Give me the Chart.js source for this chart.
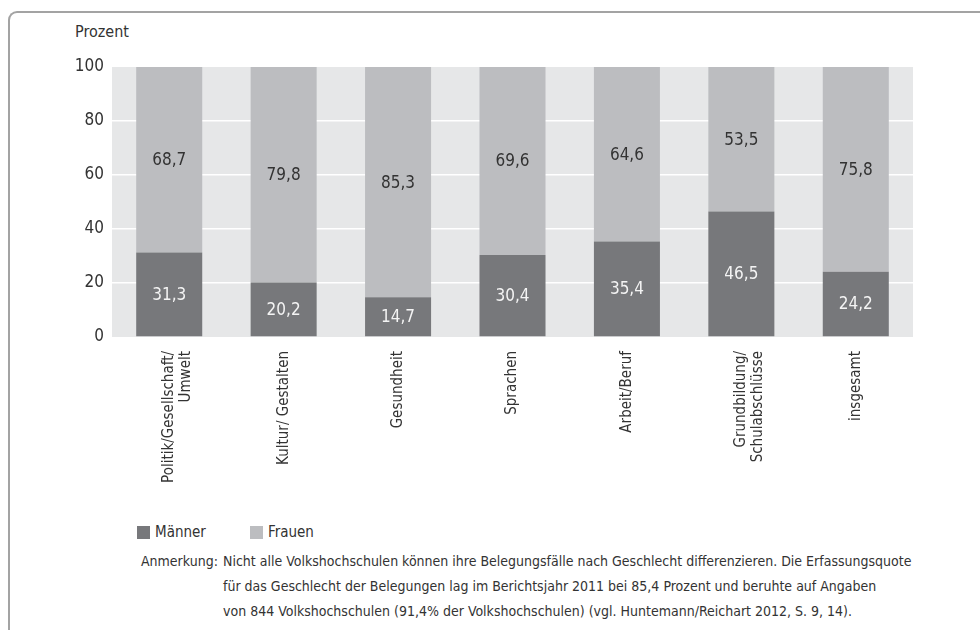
<!DOCTYPE html>
<html lang="de">
<head>
<meta charset="utf-8">
<title>Belegungen nach Geschlecht</title>
<script src="https://cdn.jsdelivr.net/npm/chart.js"></script>
<style>
    html, body {
        margin: 0;
        padding: 0;
        background: #fff;
    }
    body {
        width: 980px;
        height: 630px;
        position: relative;
        overflow: hidden;
        font-family: "DejaVu Sans Condensed", "Liberation Sans Narrow", sans-serif;
        color: #333;
    }
    .frame {
        position: absolute;
        left: 8px;
        top: 11px;
        width: 1000px;
        height: 700px;
        border-left: 2px solid #a3a3a3;
        border-top: 2px solid #a3a3a3;
        border-top-left-radius: 9px;
    }
    .unit {
        position: absolute;
        left: 75px;
        top: 22px;
        font-size: 16px;
    }
    .chart-box {
        position: absolute;
        left: 0;
        top: 0;
        width: 980px;
        height: 500px;
    }
    .legend {
        position: absolute;
        left: 137px;
        top: 523px;
        font-size: 15px;
        display: flex;
    }
    .legend .item {
        display: flex;
        align-items: center;
        width: 113px;
    }
    .legend .swatch {
        width: 13px;
        height: 13px;
        margin-right: 5px;
    }
    .note {
        position: absolute;
        left: 141px;
        top: 549px;
        font-size: 14px;
        line-height: 25px;
        display: flex;
        white-space: nowrap;
    }
    .note .head {
        width: 82px;
        flex: none;
    }
</style>
</head>
<body>
<div class="frame"></div>
<div class="unit">Prozent</div>
<div class="chart-box"><canvas id="chart" width="980" height="500"></canvas></div>
<div class="legend"></div>
<div class="note">
    <div class="head">Anmerkung:</div>
    <div class="body">
        Nicht alle Volkshochschulen können ihre Belegungsfälle nach Geschlecht differenzieren. Die Erfassungsquote<br>
        für das Geschlecht der Belegungen lag im Berichtsjahr 2011 bei 85,4 Prozent und beruhte auf Angaben<br>
        von 844 Volkshochschulen (91,4% der Volkshochschulen) (vgl. Huntemann/Reichart 2012, S. 9, 14).
    </div>
</div>

<script>
const categories = [
    ['Politik/Gesellschaft/', 'Umwelt'],
    'Kultur/ Gestalten',
    'Gesundheit',
    'Sprachen',
    'Arbeit/Beruf',
    ['Grundbildung/', 'Schulabschlüsse'],
    'insgesamt'
];
const maenner = [31.3, 20.2, 14.7, 30.4, 35.4, 46.5, 24.2];
const frauen = [68.7, 79.8, 85.3, 69.6, 64.6, 53.5, 75.8];
const yTicks = [0, 20, 40, 60, 80, 100];

const FONT = '"DejaVu Sans Condensed", "Liberation Sans Narrow", sans-serif';
const DARK = '#77787b';
const LIGHT = '#bcbdc0';

// grey plot background behind the grid
const plotBackground = {
    id: 'plotBackground',
    beforeDraw(chart) {
        const { ctx, chartArea } = chart;
        ctx.save();
        ctx.fillStyle = '#e6e7e8';
        ctx.fillRect(chartArea.left, chartArea.top, chartArea.right - chartArea.left, chartArea.bottom - chartArea.top);
        ctx.restore();
    }
};

// value written in the middle of each segment, comma as decimal mark
const segmentLabels = {
    id: 'segmentLabels',
    afterDatasetsDraw(chart) {
        const ctx = chart.ctx;
        ctx.save();
        ctx.font = '17px ' + FONT;
        ctx.textAlign = 'center';
        ctx.textBaseline = 'middle';
        chart.data.datasets.forEach((ds, di) => {
            const meta = chart.getDatasetMeta(di);
            ctx.fillStyle = di === 0 ? '#f4f4f4' : '#333';
            meta.data.forEach((bar, i) => {
                const text = ds.data[i].toFixed(1).replace('.', ',');
                ctx.fillText(text, bar.x, (bar.y + bar.base) / 2 + 1);
            });
        });
        ctx.restore();
    }
};

const chart = new Chart(document.getElementById('chart'), {
    type: 'bar',
    data: {
        labels: categories,
        datasets: [
            { label: 'Männer', data: maenner, backgroundColor: DARK },
            { label: 'Frauen', data: frauen, backgroundColor: LIGHT }
        ]
    },
    options: {
        responsive: false,
        animation: false,
        events: [],
        barPercentage: 1,
        categoryPercentage: 0.577,
        layout: { padding: { left: 0, right: 67, top: 67, bottom: 0 } },
        plugins: {
            legend: { display: false },
            tooltip: { enabled: false }
        },
        scales: {
            x: {
                stacked: true,
                grid: { display: false },
                border: { display: false },
                ticks: {
                    color: '#333',
                    font: { family: FONT, size: 15, lineHeight: 1.1 },
                    maxRotation: 90,
                    minRotation: 90,
                    padding: 6,
                    autoSkip: false
                },
                afterFit(scale) { scale.height = 163; }
            },
            y: {
                stacked: true,
                min: 0,
                max: 100,
                afterBuildTicks(scale) {
                    scale.ticks = yTicks.map(v => ({ value: v }));
                },
                grid: {
                    color: ctx => (ctx.tick && (ctx.tick.value === 0 || ctx.tick.value === 100)) ? 'rgba(0,0,0,0)' : '#ffffff',
                    lineWidth: 1.5,
                    drawTicks: false
                },
                border: { display: false },
                ticks: {
                    color: '#333',
                    font: { family: FONT, size: 17 },
                    padding: 8
                },
                afterFit(scale) { scale.width = 112; }
            }
        }
    },
    plugins: [plotBackground, segmentLabels]
});

// legend built from the datasets
const legend = document.querySelector('.legend');
chart.data.datasets.forEach(ds => {
    let item = document.createElement('div');
    item.className = 'item';
    let swatch = document.createElement('span');
    swatch.className = 'swatch';
    swatch.style.background = ds.backgroundColor;
    item.appendChild(swatch);
    item.appendChild(document.createTextNode(ds.label));
    legend.appendChild(item);
});
</script>
</body>
</html>
